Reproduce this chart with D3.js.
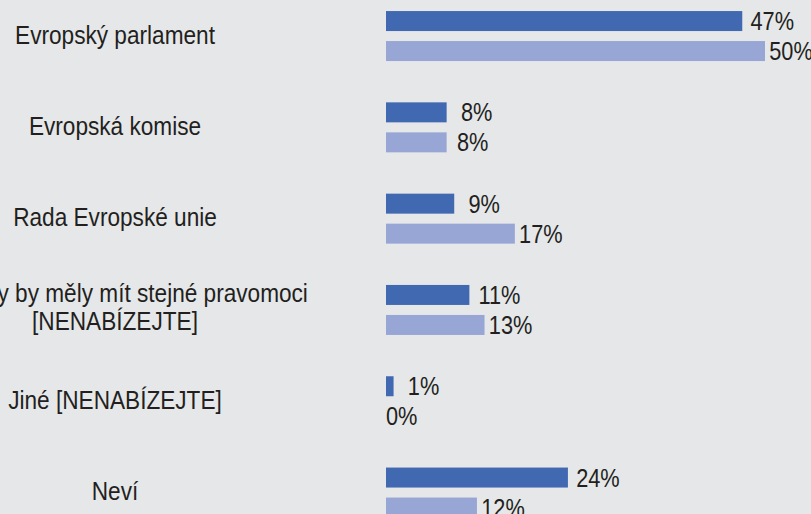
<!DOCTYPE html>
<html>
<head>
<meta charset="utf-8">
<script src="https://cdn.jsdelivr.net/npm/d3@7/dist/d3.min.js"></script>
<style>
  html, body { margin: 0; padding: 0; background: #e6e7e9; overflow: hidden; }
  svg { display: block; }
  text { font-family: "Liberation Sans", Arial, Helvetica, sans-serif; fill: #231f20; }
</style>
</head>
<body>
<svg id="chart" width="811" height="514"></svg>
<script>
// ---- data ----
const categories = [
  ["Evropský parlament"],
  ["Evropská komise"],
  ["Rada Evropské unie"],
  ["Všechny by měly mít stejné pravomoci", "[NENABÍZEJTE]"],
  ["Jiné [NENABÍZEJTE]"],
  ["Neví"]
];
const seriesNames = ["a", "b"];
const seriesA = [47, 8, 9, 11, 1, 24];
const seriesB = [50, 8, 17, 13, 0, 12];
const seriesColors = ["#4169b1", "#98a6d6"];

// ---- layout ----
const W = 811, H = 514;
const svg = d3.select("#chart");
svg.append("rect").attr("width", W).attr("height", H).attr("fill", "#e6e7e9");

const x = d3.scaleLinear().domain([0, 50]).range([386, 765]);
const y = d3.scaleBand().domain(d3.range(categories.length)).range([-9.6, 538.2]).padding(0);
const inner = d3.scaleBand().domain(seriesNames).range([-25, 25]).paddingInner(1/3).paddingOuter(0);

const labelOffset = [30, 26];
const sx = 0.87;

const data = [];
categories.forEach((c, i) => {
  [seriesA, seriesB].forEach((s, k) => {
    data.push({ i, k, v: s[i] });
  });
});

const groupCenter = i => y(i) + y.bandwidth() / 2;

// bars
svg.append("g").selectAll("rect").data(data).join("rect")
  .attr("x", x(0))
  .attr("y", d => groupCenter(d.i) + inner(seriesNames[d.k]))
  .attr("width", d => x(d.v) - x(0))
  .attr("height", inner.bandwidth())
  .attr("fill", d => seriesColors[d.k]);

// value labels
svg.append("g").selectAll("text").data(data).join("text")
  .attr("transform", d => {
    const cy = groupCenter(d.i) + inner(seriesNames[d.k]) + inner.bandwidth() / 2 + 9;
    const cx = d.v === 0 ? x(0) : x(d.v) + labelOffset[d.k];
    return `translate(${cx},${cy}) scale(${sx},1)`;
  })
  .attr("text-anchor", d => d.v === 0 ? "start" : "middle")
  .style("font-size", "25px")
  .text(d => d.v + "%");

// category labels
const cat = svg.append("g").selectAll("text").data(categories).join("text")
  .attr("transform", (c, i) => `translate(115,${groupCenter(i) + 7.5 - (c.length - 1) * 15.5}) scale(${sx},1)`)
  .attr("text-anchor", "middle")
  .style("font-size", "26px");
cat.each(function(c) {
  const t = d3.select(this);
  c.forEach((line, j) => {
    t.append("tspan").attr("x", 0).attr("dy", j === 0 ? 0 : 28).text(line);
  });
});
</script>
</body>
</html>
